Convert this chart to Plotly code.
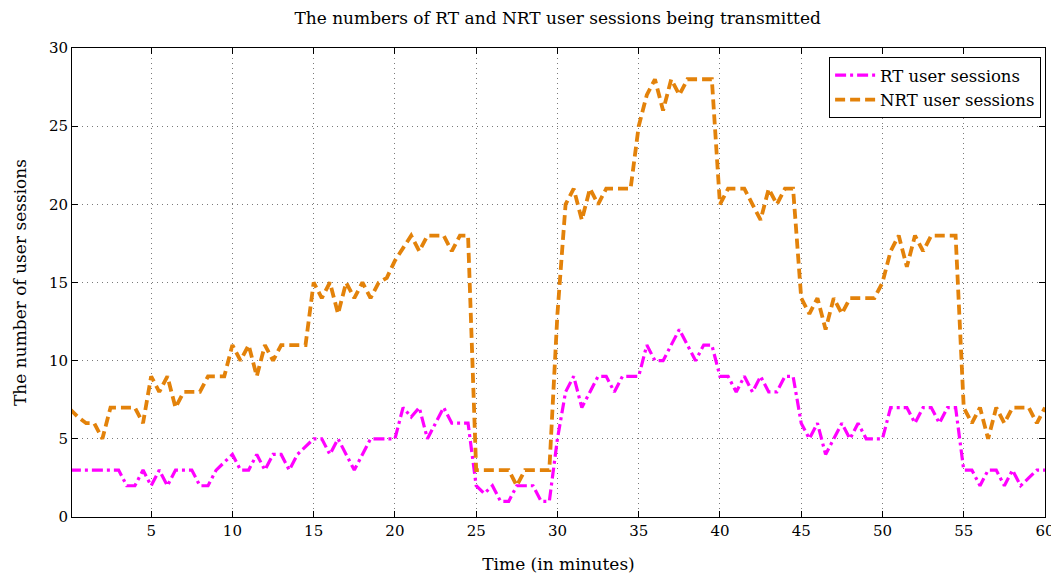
import plotly.graph_objects as go

time_min = [i * 0.5 for i in range(121)]

rt_sessions = [
    3, 3, 3, 3, 3, 3, 3, 2, 2, 3,      # 0 - 4.5
    2, 3, 2, 3, 3, 3, 2, 2, 3, 3.5,    # 5 - 9.5
    4, 3, 3, 4, 3, 4, 4, 3, 4, 4.5,    # 10 - 14.5
    5, 5, 4, 5, 4, 3, 4, 5, 5, 5,      # 15 - 19.5
    5, 7, 6.4, 7, 5, 6, 7, 6, 6, 6,    # 20 - 24.5
    2, 1.5, 2, 1, 1, 2, 2, 2, 1, 1,    # 25 - 29.5
    5, 8, 9, 7, 8, 9, 9, 8, 9, 9,      # 30 - 34.5
    9, 11, 10, 10, 11, 12, 11, 10, 11, 11,  # 35 - 39.5
    9, 9, 8, 9, 8, 9, 8, 8, 9, 9,      # 40 - 44.5
    6, 5, 6, 4, 5, 6, 5, 6, 5, 5,      # 45 - 49.5
    5, 7, 7, 7, 6, 7, 7, 6, 7, 7,      # 50 - 54.5
    3, 3, 2, 3, 3, 2, 3, 2, 2.5, 3,    # 55 - 59.5
    3,                                  # 60
]

nrt_sessions = [
    6.9, 6.4, 6, 6, 5, 7, 7, 7, 7, 6,          # 0 - 4.5
    9, 8, 9, 7, 8, 8, 8, 9, 9, 9,              # 5 - 9.5
    11, 10, 11, 9, 11, 10, 11, 11, 11, 11,     # 10 - 14.5
    15, 14, 15, 13, 15, 14, 15, 14, 15, 15.3,  # 15 - 19.5
    16.4, 17.2, 18, 17, 18, 18, 18, 17, 18, 18,  # 20 - 24.5
    3, 3, 3, 3, 3, 2, 3, 3, 3, 3,              # 25 - 29.5
    13, 20, 21, 19, 21, 20, 21, 21, 21, 21,    # 30 - 34.5
    25, 27, 28, 26, 28, 27, 28, 28, 28, 28,    # 35 - 39.5
    20, 21, 21, 21, 20, 19, 21, 20, 21, 21,    # 40 - 44.5
    14, 13, 14, 12, 14, 13, 14, 14, 14, 14,    # 45 - 49.5
    15, 17, 18, 16, 18, 17, 18, 18, 18, 18,    # 50 - 54.5
    7, 6, 7, 5, 7, 6, 7, 7, 7, 6,              # 55 - 59.5
    7,                                          # 60
]

x_ticks = [5, 10, 15, 20, 25, 30, 35, 40, 45, 50, 55, 60]
y_ticks = [0, 5, 10, 15, 20, 25, 30]

FONT = "DejaVu Serif"

fig = go.Figure()
fig.add_trace(go.Scatter(
    x=time_min, y=rt_sessions, mode="lines", name="RT user sessions",
    line=dict(color="#FF00FF", width=3.2, dash="11px,4px,3px,4px"),
))
fig.add_trace(go.Scatter(
    x=time_min, y=nrt_sessions, mode="lines", name="NRT user sessions",
    line=dict(color="#E3820A", width=3.8, dash="10px,5px"),
))

axis_common = dict(
    showline=True, linecolor="black", linewidth=1, mirror="ticks",
    ticks="inside", ticklen=6, tickcolor="black",
    showgrid=True, gridcolor="#7a7a7a", gridwidth=1, griddash="1px,4px",
    zeroline=False, tickfont=dict(family=FONT, size=15, color="black"),
)

fig.update_layout(
    width=1059, height=576,
    margin=dict(l=64, r=20, t=40, b=67),
    paper_bgcolor="white", plot_bgcolor="white",
    title=dict(text="The numbers of RT and NRT user sessions being transmitted",
               x=0.519, xanchor="center", y=0.983, yanchor="middle",
               font=dict(family=FONT, size=17, color="black")),
    xaxis=dict(range=[0.13, 60], tickvals=x_ticks,
               title=dict(text="Time (in minutes)", standoff=19,
                          font=dict(family=FONT, size=17, color="black")),
               **axis_common),
    yaxis=dict(range=[0, 30], tickvals=y_ticks,
               title=dict(text="The number of user sessions", standoff=17,
                          font=dict(family=FONT, size=17, color="black")),
               **axis_common),
    legend=dict(x=0.996, y=0.981, xanchor="right", yanchor="top",
                bgcolor="white", bordercolor="black", borderwidth=1,
                font=dict(family=FONT, size=16.5, color="black"),
                tracegroupgap=0, itemwidth=40),
    showlegend=True,
)

fig.write_html("out.html")
